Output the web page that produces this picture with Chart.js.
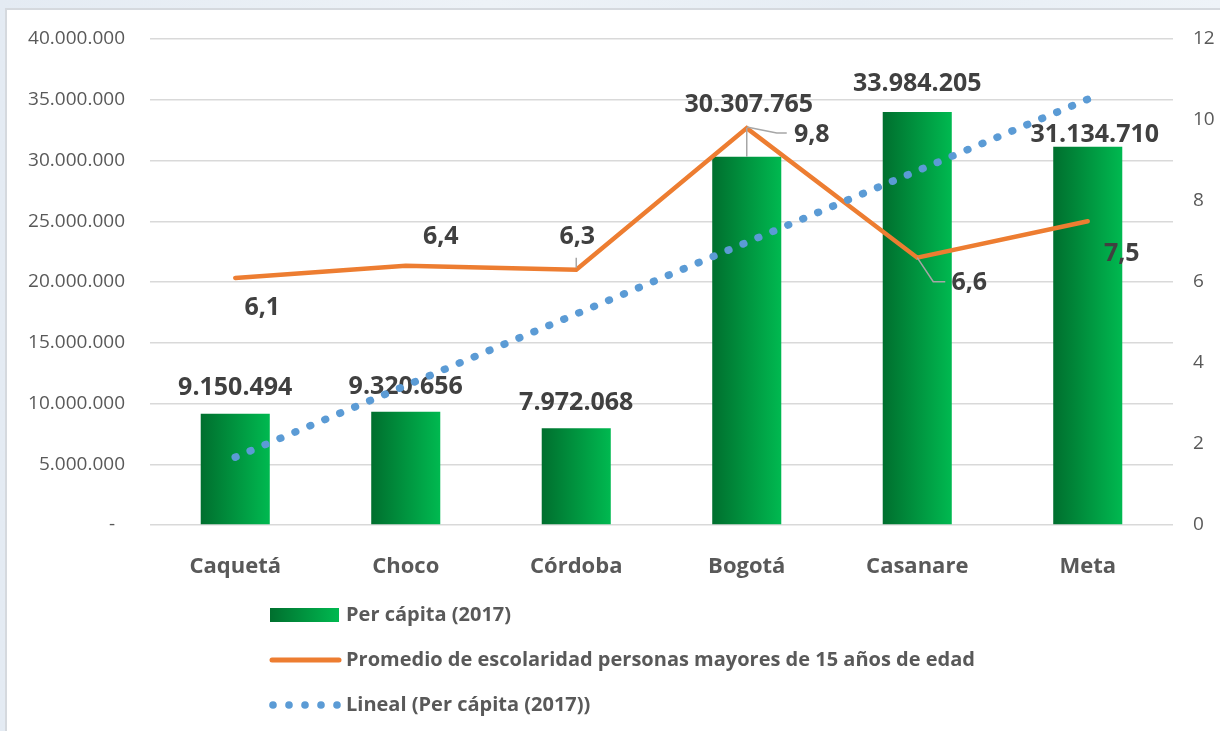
<!DOCTYPE html>
<html lang="es">
<head>
<meta charset="utf-8">
<title>Per cápita y escolaridad</title>
<script src="https://cdn.jsdelivr.net/npm/chart.js@4.4.1/dist/chart.umd.min.js"></script>
<style>
  html, body { margin: 0; padding: 0; }
  body { width: 1220px; height: 731px; overflow: hidden; position: relative;
    background: linear-gradient(90deg, #e4ebf3 0%, #edf2f7 40%, #e6edf4 70%, #eef3f8 100%); }
  .card { position: absolute; left: 5px; top: 8px; width: 1240px; height: 760px;
    background: #fff; border: 2px solid #d5d9de; }
  #chartPib { position: absolute; left: 0; top: 0; }
</style>
</head>
<body>
<div class="card"></div>
<canvas id="chartPib" width="1220" height="731"></canvas>
<script>
const departamentos = ['Caquetá', 'Choco', 'Córdoba', 'Bogotá', 'Casanare', 'Meta']
const perCapita = [9150494, 9320656, 7972068, 30307765, 33984205, 31134710]
const escolaridad = [6.1, 6.4, 6.3, 9.8, 6.6, 7.5]
// tendencia lineal del per cápita en cada departamento
const tendencia = [5580000, 11470000, 17370000, 23260000, 29150000, 35040000]
const leyenda = ['Per cápita (2017)', 'Promedio de escolaridad personas mayores de 15 años de edad', 'Lineal (Per cápita (2017))']

// desplazamiento de etiquetas [dx, dy]
const offBarra = [[0, -26], [0, -25], [0, -25], [2, -52], [0, -28], [7, -12]]
const offLinea = [[27, 30], [35, -29], [1, -33], [65, 7], [52, 25], [34, 33]]

const verde1 = '#006f2e'
const verde2 = '#00b950'
const naranja = '#ED7D31'
const azul = '#5B9BD5'
const gris = '#595959'
const BAR_PCT = 0.405

Chart.defaults.font.family = '"Open Sans", "Noto Sans", sans-serif'
Chart.defaults.color = gris

const miles = (v) => String(Math.round(v)).replace(/\B(?=(\d{3})+(?!\d))/g, '.')
const coma = (v) => v.toFixed(1).replace('.', ',')

function gradienteBarra (c) {
  const chart = c.chart
  const x = chart.scales.x
  if (!x || x.width == null || c.dataIndex == null) return verde2
  const cx = x.getPixelForValue(c.dataIndex)
  const w = x.width / departamentos.length * BAR_PCT
  const g = chart.ctx.createLinearGradient(cx - w / 2, 0, cx + w / 2, 0)
  g.addColorStop(0, verde1)
  g.addColorStop(1, verde2)
  return g
}

function linea (ctx, pts) {
  ctx.beginPath()
  ctx.moveTo(pts[0][0], pts[0][1])
  for (let i = 1; i < pts.length; i++) ctx.lineTo(pts[i][0], pts[i][1])
  ctx.stroke()
}

const etiquetas = {
  id: 'etiquetas',
  // valores sobre las barras, antes de la línea y la tendencia
  afterDatasetDraw (chart, args) {
    if (args.index !== 0) return
    const ctx = chart.ctx
    ctx.save()
    ctx.font = 'bold 25px "Open Sans"'
    ctx.fillStyle = '#404040'
    ctx.textAlign = 'center'
    ctx.textBaseline = 'middle'
    args.meta.data.forEach((bar, i) => {
      ctx.fillText(miles(perCapita[i]), bar.x + offBarra[i][0], bar.y + offBarra[i][1])
    })
    ctx.restore()
  },
  afterDatasetsDraw (chart) {
    const ctx = chart.ctx
    const pts = chart.getDatasetMeta(1).data
    const barras = chart.getDatasetMeta(0).data
    ctx.save()
    // líneas guía
    ctx.strokeStyle = '#a6a6a6'
    ctx.lineWidth = 1.5
    const b = barras[3], p3 = pts[3]
    linea(ctx, [[b.x, b.y], [p3.x, p3.y]])
    linea(ctx, [[p3.x, p3.y - 1], [p3.x + 30, p3.y + 5], [p3.x + 40, p3.y + 5]])
    const p4 = pts[4]
    linea(ctx, [[p4.x, p4.y], [p4.x + 16, p4.y + 24], [p4.x + 28, p4.y + 24]])
    const p2 = pts[2]
    linea(ctx, [[p2.x, p2.y - 12], [p2.x, p2.y - 2]])

    ctx.font = 'bold 25px "Open Sans"'
    ctx.fillStyle = '#404040'
    ctx.textAlign = 'center'
    ctx.textBaseline = 'middle'
    pts.forEach((p, i) => {
      ctx.fillText(coma(escolaridad[i]), p.x + offLinea[i][0], p.y + offLinea[i][1])
    })
    ctx.restore()
  },
  // leyenda vertical bajo el eje
  afterDraw (chart) {
    const ctx = chart.ctx
    const x0 = 270, x1 = 339
    const filas = [615, 660, 705]
    ctx.save()
    const g = ctx.createLinearGradient(x0, 0, x1, 0)
    g.addColorStop(0, verde1)
    g.addColorStop(1, verde2)
    ctx.fillStyle = g
    ctx.fillRect(x0, filas[0] - 7, x1 - x0, 14)

    ctx.strokeStyle = naranja
    ctx.lineWidth = 5
    ctx.lineCap = 'round'
    linea(ctx, [[x0 + 2, filas[1]], [x1, filas[1]]])

    ctx.fillStyle = azul
    for (let k = 0; k < 5; k++) {
      ctx.beginPath()
      ctx.arc(x0 + 3 + k * 16, filas[2], 3.8, 0, Math.PI * 2)
      ctx.fill()
    }

    ctx.font = 'bold 20px "Open Sans"'
    ctx.fillStyle = gris
    ctx.textAlign = 'left'
    ctx.textBaseline = 'middle'
    leyenda.forEach((t, i) => ctx.fillText(t, 346, filas[i]))
    ctx.restore()
  }
}

const ctx = document.getElementById('chartPib').getContext('2d')

const chartPib = new Chart(ctx, {
  type: 'bar',
  data: {
    labels: departamentos,
    datasets: [
      {
        label: leyenda[0],
        data: perCapita,
        backgroundColor: gradienteBarra,
        barPercentage: BAR_PCT,
        categoryPercentage: 1,
        yAxisID: 'y',
        order: 3
      },
      {
        type: 'line',
        label: leyenda[1],
        data: escolaridad,
        borderColor: naranja,
        borderWidth: 4.5,
        borderCapStyle: 'round',
        pointRadius: 0,
        tension: 0,
        yAxisID: 'y1',
        order: 2
      },
      {
        type: 'line',
        label: leyenda[2],
        data: tendencia,
        borderColor: azul,
        borderWidth: 7.5,
        borderCapStyle: 'round',
        borderDash: [0.8, 15.4],
        pointRadius: 0,
        tension: 0,
        yAxisID: 'y',
        order: 1
      }
    ]
  },
  options: {
    responsive: false,
    animation: false,
    layout: { padding: { top: 39, right: 0, bottom: 0, left: 0 } },
    scales: {
      x: {
        grid: { display: false },
        border: { display: false },
        ticks: {
          padding: 21,
          color: gris,
          font: { size: 22, weight: 'bold' }
        },
        afterFit (s) { s.height = 206 }
      },
      y: {
        position: 'left',
        min: 0,
        max: 40000000,
        ticks: {
          stepSize: 5000000,
          padding: 25,
          color: gris,
          font: { size: 19 },
          callback: (v) => (v === 0 ? '-  ' : miles(v))
        },
        grid: { color: '#d9d9d9', lineWidth: 1.5, drawTicks: false },
        border: { display: false },
        afterFit (s) { s.width = 150 }
      },
      y1: {
        position: 'right',
        min: 0,
        max: 12,
        ticks: {
          stepSize: 2,
          padding: 20,
          color: gris,
          font: { size: 19 }
        },
        grid: { display: false, drawTicks: false },
        border: { display: false },
        afterFit (s) { s.width = 47 }
      }
    },
    plugins: {
      legend: { display: false },
      tooltip: { enabled: false }
    }
  },
  plugins: [etiquetas]
})
</script>
</body>
</html>
